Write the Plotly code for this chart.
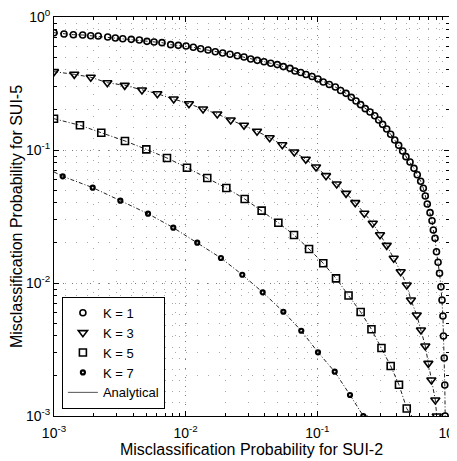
import numpy as np
import plotly.graph_objects as go

# Values, stored as log10 of the probabilities
# K = 1 (circles)
k1_x_exp = [-3.000, -2.924, -2.853, -2.782, -2.721, -2.664, -2.592, -2.534, -2.478, -2.413,
            -2.352, -2.294, -2.240, -2.180, -2.114, -2.056, -1.997, -1.942, -1.886, -1.830,
            -1.775, -1.719, -1.663, -1.608, -1.557, -1.506, -1.456, -1.405, -1.354, -1.304,
            -1.258, -1.208, -1.170, -1.126, -1.086, -1.040, -0.995, -0.955, -0.909, -0.863,
            -0.823, -0.782, -0.742, -0.706, -0.671, -0.636, -0.600, -0.564, -0.534, -0.504,
            -0.473, -0.443, -0.412, -0.382, -0.352, -0.327, -0.296, -0.266, -0.241, -0.215,
            -0.195, -0.180, -0.165, -0.144, -0.129, -0.119, -0.106, -0.095, -0.083, -0.072,
            -0.061, -0.053, -0.046, -0.042, -0.036, -0.032, -0.029]
k1_y_exp = [-0.118, -0.128, -0.133, -0.135, -0.141, -0.143, -0.150, -0.158, -0.163, -0.168,
            -0.173, -0.183, -0.188, -0.193, -0.208, -0.213, -0.218, -0.228, -0.239, -0.248,
            -0.261, -0.271, -0.280, -0.291, -0.301, -0.316, -0.326, -0.336, -0.348, -0.358,
            -0.373, -0.386, -0.406, -0.417, -0.432, -0.447, -0.466, -0.489, -0.508, -0.526,
            -0.553, -0.574, -0.604, -0.632, -0.659, -0.689, -0.714, -0.742, -0.774, -0.807,
            -0.842, -0.882, -0.925, -0.965, -1.008, -1.050, -1.090, -1.138, -1.186, -1.235,
            -1.288, -1.346, -1.406, -1.471, -1.532, -1.602, -1.664, -1.765, -1.844, -1.927,
            -2.028, -2.128, -2.248, -2.398, -2.564, -2.767, -3.000]

# K = 3 (triangles)
k3_x_exp = [-3.000, -2.846, -2.721, -2.595, -2.463, -2.332, -2.215, -2.091, -1.975, -1.868,
            -1.760, -1.658, -1.557, -1.458, -1.362, -1.266, -1.175, -1.088, -1.010, -0.934,
            -0.853, -0.782, -0.712, -0.643, -0.579, -0.524, -0.473, -0.420, -0.367, -0.321,
            -0.289, -0.245, -0.213, -0.180, -0.157, -0.134, -0.104, -0.093]
k3_y_exp = [-0.411, -0.431, -0.453, -0.494, -0.514, -0.549, -0.577, -0.617, -0.652, -0.692,
            -0.729, -0.774, -0.814, -0.859, -0.908, -0.960, -1.015, -1.070, -1.128, -1.193,
            -1.256, -1.326, -1.396, -1.476, -1.551, -1.637, -1.717, -1.814, -1.915, -2.015,
            -2.128, -2.241, -2.353, -2.474, -2.604, -2.729, -2.880, -3.000]

# K = 5 (squares)
k5_x_exp = [-3.000, -2.803, -2.641, -2.461, -2.299, -2.142, -1.990, -1.836, -1.691, -1.552,
            -1.423, -1.296, -1.177, -1.063, -0.955, -0.858, -0.763, -0.671, -0.589, -0.513,
            -0.443, -0.380, -0.321]
k5_y_exp = [-0.765, -0.814, -0.870, -0.932, -0.995, -1.060, -1.133, -1.211, -1.286, -1.368,
            -1.456, -1.547, -1.639, -1.744, -1.852, -1.965, -2.094, -2.218, -2.348, -2.489,
            -2.624, -2.765, -2.944]

# K = 7 (small circles)
k7_x_exp = [-2.934, -2.706, -2.496, -2.286, -2.094, -1.912, -1.732, -1.570, -1.415, -1.258,
            -1.122, -0.995, -0.868, -0.752, -0.651]
k7_y_exp = [-1.198, -1.283, -1.381, -1.479, -1.584, -1.697, -1.812, -1.938, -2.070, -2.216,
            -2.359, -2.521, -2.667, -2.842, -3.000]

# Analytical-curve end points that lie beyond the simulated markers
k5_line_end = (-0.283, -3.000)
k7_line_start = (-3.000, -1.165)
k7_line_end = (-0.615, -3.000)

x_title = "Misclassification Probability for SUI-2"
y_title = "Misclassification Probability for SUI-5"
decades = [-3, -2, -1, 0]

FONT = "Liberation Sans, Arial, Helvetica, sans-serif"


def p(a):
    return 10 ** np.asarray(a, dtype=float)


fig = go.Figure()

line_style = dict(color="#222222", width=1, dash="4px,2px,1px,2px")

analytic = [
    (k1_x_exp, k1_y_exp),
    (k3_x_exp, k3_y_exp),
    (k5_x_exp + [k5_line_end[0]], k5_y_exp + [k5_line_end[1]]),
    ([k7_line_start[0]] + k7_x_exp + [k7_line_end[0]],
     [k7_line_start[1]] + k7_y_exp + [k7_line_end[1]]),
]
for xs, ys in analytic:
    fig.add_trace(go.Scatter(x=p(xs), y=p(ys), mode="lines", line=line_style,
                             showlegend=False, hoverinfo="skip"))

series = [
    ("K = 1", k1_x_exp, k1_y_exp, "circle-open", 6, 1.6),
    ("K = 3", k3_x_exp, k3_y_exp, "triangle-down-open", 8, 1.6),
    ("K = 5", k5_x_exp, k5_y_exp, "square-open", 7, 1.6),
    ("K = 7", k7_x_exp, k7_y_exp, "circle-open", 4, 2.2),
]
for name, xs, ys, sym, sz, lw in series:
    fig.add_trace(go.Scatter(x=p(xs), y=p(ys), mode="markers", name=name,
                             marker=dict(symbol=sym, size=sz, color="black",
                                         line=dict(color="black", width=lw))))

# legend entry for analytical curves
fig.add_trace(go.Scatter(x=[None], y=[None], mode="lines", name="Analytical",
                         line=dict(color="#555555", width=1)))

tickvals = [10.0 ** d for d in decades]
ticktext = ["10<sup>%d</sup>" % d for d in decades]

axis_common = dict(
    type="log", automargin=False,
    showline=True, linecolor="black", linewidth=1, mirror="allticks",
    ticks="inside", ticklen=5, tickcolor="black",
    tickvals=tickvals, ticktext=ticktext, ticklabeloverflow="allow",
    showgrid=True, gridcolor="#777777", gridwidth=1, griddash="1px,8px",
    zeroline=False,
    minor=dict(ticks="inside", ticklen=3, tickcolor="black", dtick="D1",
               showgrid=True, gridcolor="#aaaaaa", gridwidth=1, griddash="1px,10px"),
    tickfont=dict(family=FONT, size=14, color="black"),
    title_font=dict(family=FONT, size=16, color="black"),
)

fig.update_xaxes(range=[-3, 0], title_text=x_title, title_standoff=4,
                 ticklabelstandoff=4, **axis_common)
fig.update_yaxes(range=[-3, 0], title_text=y_title, title_standoff=4, **axis_common)

# The page body adds an 8px offset, so the figure is 8px smaller than the window
fig.update_layout(
    width=449, height=453,
    margin=dict(l=46, r=8, t=9, b=45),
    paper_bgcolor="white", plot_bgcolor="white",
    font=dict(family=FONT, size=14, color="black"),
    legend=dict(x=0.02, y=0.018, xanchor="left", yanchor="bottom",
                bgcolor="white", bordercolor="black", borderwidth=1,
                font=dict(family=FONT, size=13, color="black"),
                tracegroupgap=0, itemwidth=30),
)

fig.write_html("out.html")
